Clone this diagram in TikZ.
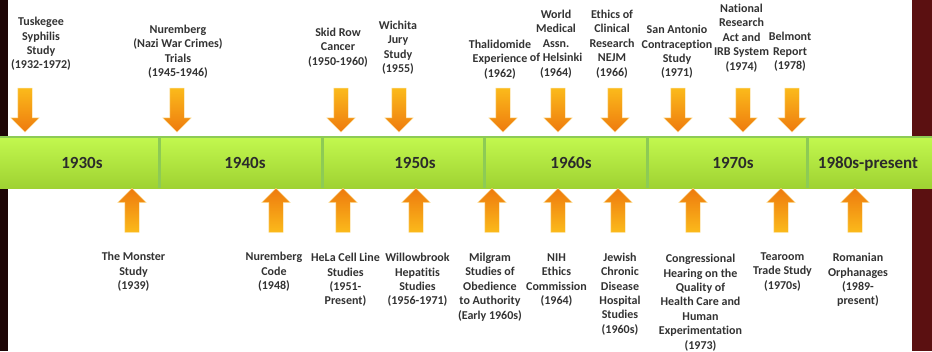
\documentclass[tikz,border=0pt]{standalone}
\usepackage{fontspec}
\setmainfont{Carlito}[Ligatures=NoCommon]
\usepackage{tikz}
\usetikzlibrary{shapes.arrows,positioning}
\definecolor{barTop}{HTML}{C3F94F}
\definecolor{barBot}{HTML}{9FD232}
\definecolor{barLine}{HTML}{8DCB55}
\definecolor{arrGold}{HTML}{FBBA1B}
\definecolor{arrOrange}{HTML}{EE7A0E}
\definecolor{txt}{HTML}{333333}
\definecolor{edgeL}{HTML}{1E0606}
\definecolor{edgeR}{HTML}{5B1011}
\tikzset{
  event/.style={align=center,inner sep=0pt,text=txt,
    font=\bfseries\fontsize{12}{14.4}\selectfont},
  decade/.style={anchor=base,inner sep=0pt,text=txt!85!black,
    font=\bfseries\fontsize{17}{20}\selectfont},
  blockarr/.style={single arrow,inner sep=7pt,minimum height=44pt,
    single arrow head extend=7pt,draw=arrGold!45,line width=0.4pt},
  downarr/.style={blockarr,shape border rotate=270,
    top color=arrGold,bottom color=arrOrange},
  uparr/.style={blockarr,shape border rotate=90,
    top color=arrOrange,bottom color=arrGold}
}

\begin{document}
\begin{tikzpicture}[x=1pt,y=-1pt]
  \useasboundingbox (0,0) rectangle (932,351);
  % slide background
  \fill[edgeL] (0,0) rectangle (8,351);
  \fill[white] (8,0) rectangle (912,351);
  \fill[edgeR] (912,0) rectangle (932,351);
  % decade bar
  \shade[top color=barTop,bottom color=barBot] (0,136) rectangle (932,188);
  \draw[barLine,line width=1.5pt] (0,136.75) -- (932,136.75);
  \foreach \x in {159,322,484,647,807}{\draw[barLine,line width=3pt] (\x,137) -- (\x,188);}
  \node[decade] (d30) at (82,168) {1930s};
  \node[decade] (d40) at (245,168) {1940s};
  \node[decade] (d50) at (415,168) {1950s};
  \node[decade] (d60) at (571,168) {1960s};
  \node[decade] (d70) at (733,168) {1970s};
  \node[decade] (d80) at (868,168) {1980s-present};
  % arrows
  \foreach \x [count=\i] in {25,177,341,399,503,558,615,678,743,792}
    \node[downarr] (dn\i) at (\x,106.5) {};
  \foreach \x [count=\i] in {132,276,343,416,492,558,618,693,781,855}
    \node[uparr] (up\i) at (\x,214) {};
  % events above the bar
  \node[event] (tuskegee) at (41,44) {Tuskegee\\Syphilis\\Study\\(1932-1972)};
  \node[event] (trials) at (178,51.5) {Nuremberg\\(Nazi War Crimes)\\Trials\\(1945-1946)};
  \node[event] (skidrow) at (338,47.5) {Skid Row\\Cancer\\(1950-1960)};
  \node[event] (wichita) at (398,47.5) {Wichita\\Jury\\Study\\(1955)};
  \node[event] (thalidomide) at (500,59.5) {Thalidomide\\Experience\\(1962)};
  \node[event] (helsinki) at (556,44) {World\\Medical\\Assn.\\of Helsinki\\(1964)};
  \node[event] (nejm) at (612,44) {Ethics of\\Clinical\\Research\\NEJM\\(1966)};
  \node[event] (sanantonio) at (677,52) {San Antonio\\Contraception\\Study\\(1971)};
  \node[event] (nra) at (741.5,38) {National\\Research\\Act and\\IRB System\\(1974)};
  \node[event] (belmont) at (790,52) {Belmont\\Report\\(1978)};
  % events below the bar
  \node[event] (monster) at (133.5,272) {The Monster\\Study\\(1939)};
  \node[event] (code) at (274,272) {Nuremberg\\Code\\(1948)};
  \node[event] (hela) at (345.5,280) {HeLa Cell Line\\Studies\\(1951-\\Present)};
  \node[event] (willowbrook) at (417.5,280) {Willowbrook\\Hepatitis\\Studies\\(1956-1971)};
  \node[event] (milgram) at (490,287) {Milgram\\Studies of\\Obedience\\to Authority\\(Early 1960s)};
  \node[event] (nih) at (556.5,280) {NIH\\Ethics\\Commission\\(1964)};
  \node[event] (jewish) at (620,294) {Jewish\\Chronic\\Disease\\Hospital\\Studies\\(1960s)};
  \node[event] (hearing) at (700.5,302.5) {Congressional\\Hearing on the\\Quality of\\Health Care and\\Human\\Experimentation\\(1973)};
  \node[event] (tearoom) at (782.5,272) {Tearoom\\Trade Study\\(1970s)};
  \node[event] (romanian) at (858,280) {Romanian\\Orphanages\\(1989-\\present)};
\end{tikzpicture}
\end{document}
